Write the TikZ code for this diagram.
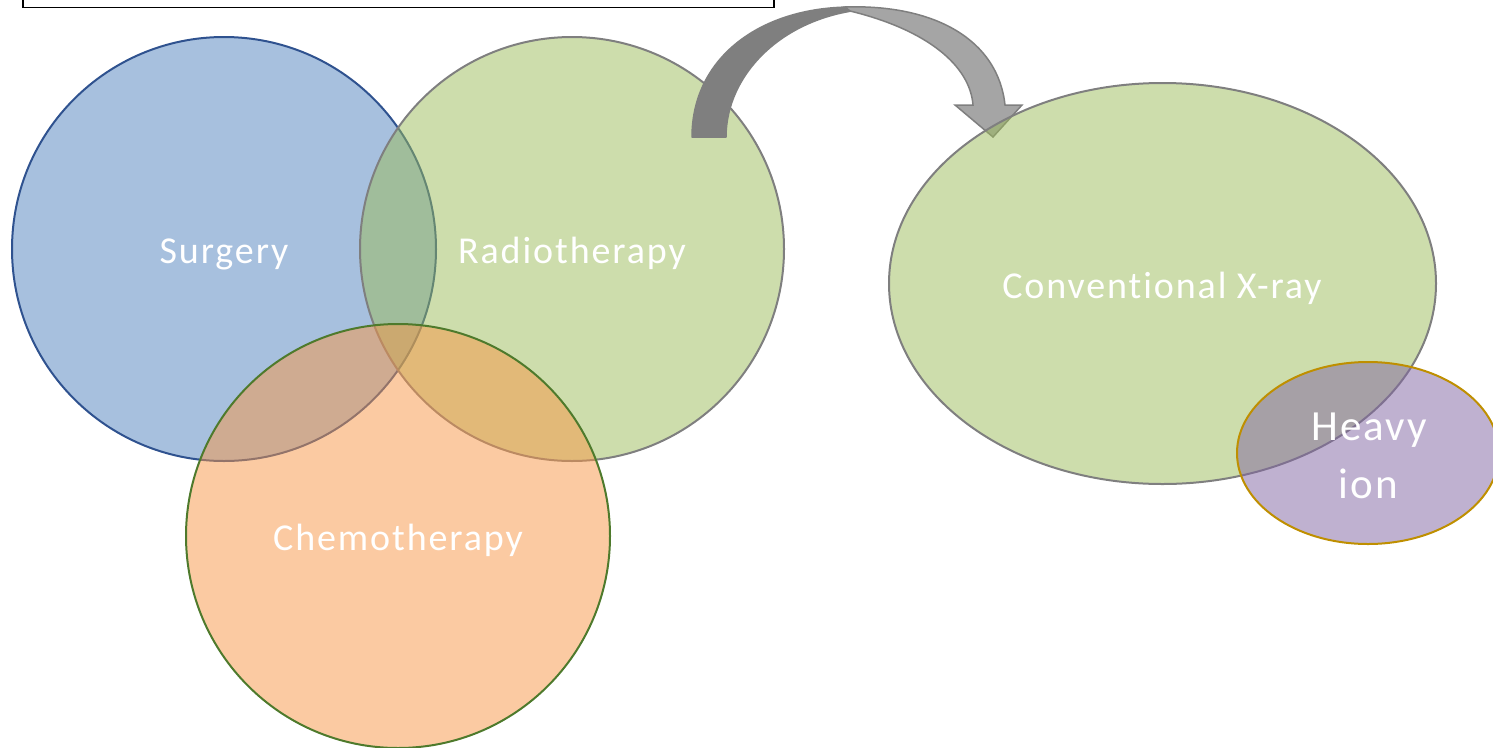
\documentclass[tikz,border=0pt]{standalone}
\usepackage{fontspec}
\setmainfont{Carlito}
\newfontfamily\lblfont[LetterSpace=5, Ligatures=NoCommon]{Carlito}
\newfontfamily\ionfont[LetterSpace=5, Ligatures=NoCommon]{Carlito}
\usetikzlibrary{shapes.geometric}
\definecolor{blueF}{HTML}{4F81BD}
\definecolor{blueS}{HTML}{2F528F}
\definecolor{greenF}{HTML}{9BBB59}
\definecolor{grayS}{HTML}{7F7F7F}
\definecolor{orangeF}{HTML}{F79646}
\definecolor{greenS}{HTML}{4E7A2C}
\definecolor{purpleF}{HTML}{8064A2}
\definecolor{goldS}{HTML}{BF8F00}
\definecolor{arrowDark}{HTML}{7F7F7F}
\definecolor{arrowLight}{HTML}{A5A5A5}
\tikzset{
  blob/.style={draw, line width=2pt, fill opacity=0.5, inner sep=0pt},
  disc/.style={blob, circle, minimum size=424pt},
  lbl/.style={text=white, font=\lblfont\fontsize{38}{46}\selectfont, anchor=base, inner sep=0pt},
  ionlbl/.style={text=white, font=\ionfont\fontsize{43}{50}\selectfont, anchor=base, inner sep=0pt},
}
\begin{document}
\begin{tikzpicture}[x=1pt, y=-1pt]
\useasboundingbox (0,0) rectangle (1493,747);
\begin{scope}
\clip (0,0) rectangle (1493,747);
% title frame, cut by the top edge
\node[draw=black, line width=1.5pt, minimum width=751pt, minimum height=40pt, inner sep=0pt, anchor=south west] (frame) at (22,8) {};

% three treatment discs
\node[disc, fill=blueF, draw=blueS] (surgery) at (224,249) {};
\node[disc, fill=greenF, draw=grayS] (radio) at (572,249) {};
\node[disc, fill=orangeF, draw=greenS] (chemo) at (398,536) {};

% curved block arrow: shaded back part, then lighter front part with head
\filldraw[draw=grayS, fill=arrowDark, line width=1.5pt, line join=round]
  (692,137) .. controls (692,58) and (760,7) .. (852,7)
  .. controls (858,7) and (864,8) .. (868,9)
  .. controls (782,16) and (726,75) .. (726,137) -- cycle;
\filldraw[draw=grayS, fill=arrowLight, line width=1.5pt, line join=miter]
  (845,7) .. controls (935,4) and (998,40) .. (1005,105)
  -- (1022,105) -- (993,137) -- (955,105) -- (973,105)
  .. controls (970,66) and (928,30) .. (850,11) -- cycle;

% radiotherapy modalities
\node[blob, ellipse, fill=greenF, draw=grayS, minimum width=547pt, minimum height=401pt] (xray) at (1162.5,283.5) {};
\node[blob, ellipse, fill=purpleF, draw=goldS, minimum width=262pt, minimum height=182pt] (heavyion) at (1368,453) {};

% labels
\node[lbl] (surgeryT) at (224,263) {Surgery};
\node[lbl] (radioT) at (572,263) {Radiotherapy};
\node[lbl] (chemoT) at (398,550) {Chemotherapy};
\node[lbl] (xrayT) at (1162,298) {Conventional X-ray};
\node[ionlbl] (heavyT) at (1369,440) {Heavy};
\node[ionlbl] (ionT) at (1368,498) {ion};
\end{scope}
\end{tikzpicture}
\end{document}
